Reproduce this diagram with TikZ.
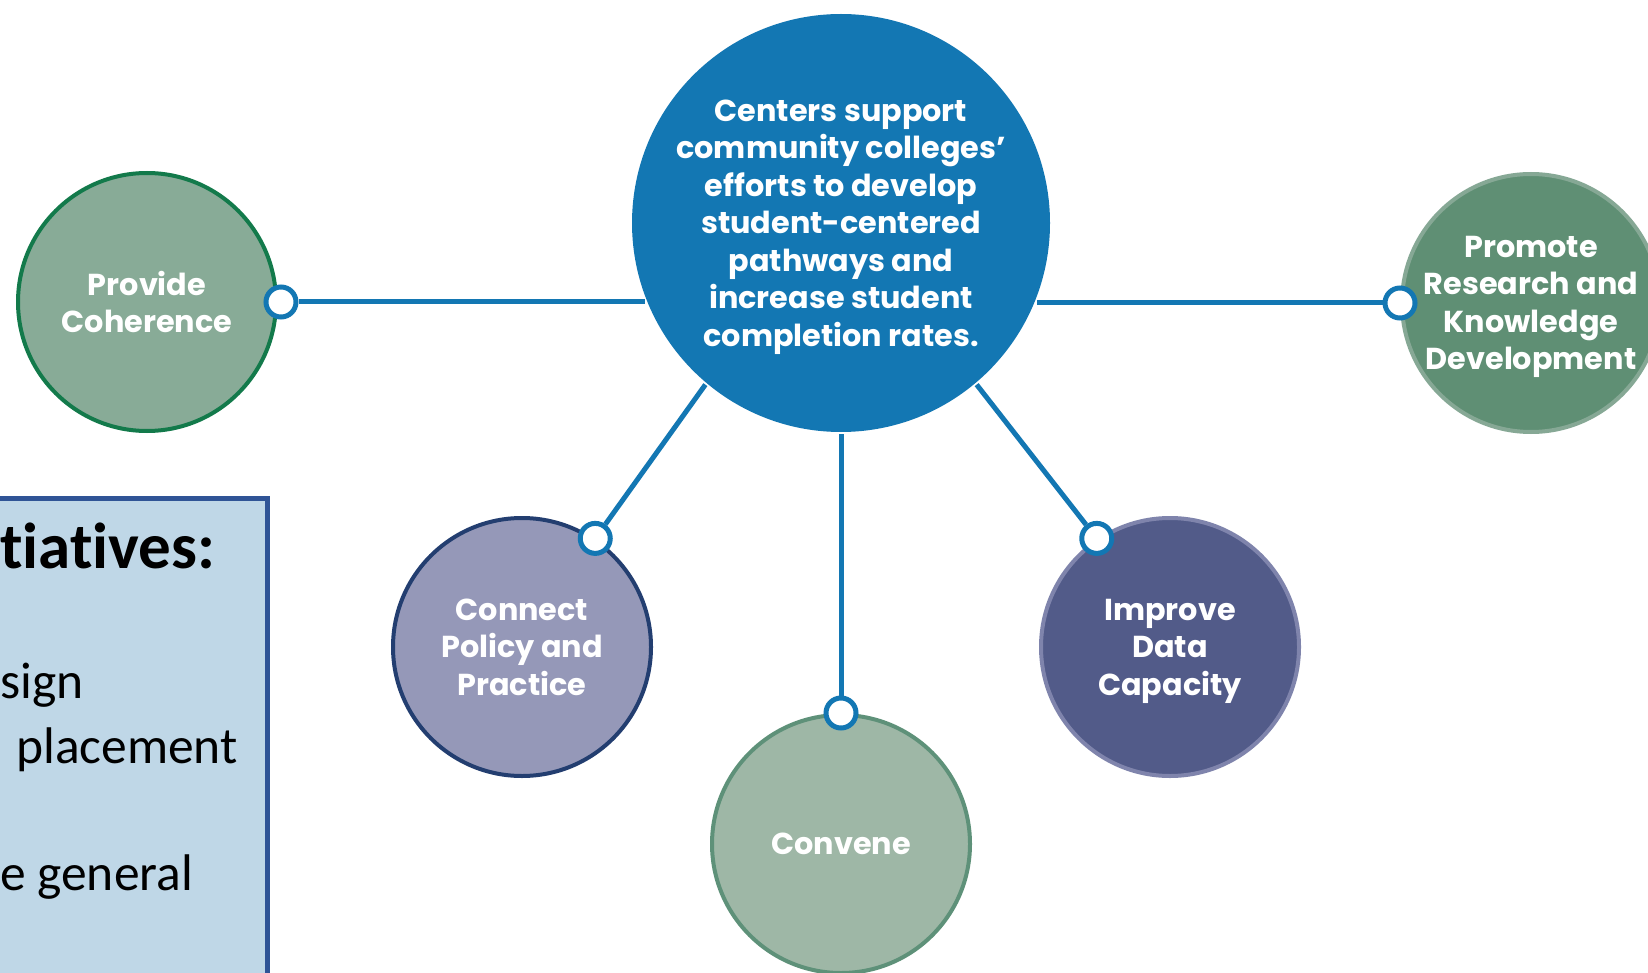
\documentclass[tikz,border=0pt]{standalone}
\usepackage{fontspec}
\setmainfont{Poppins}
\newfontfamily\boxfont[Ligatures=NoCommon]{Carlito}
\usetikzlibrary{positioning}
\definecolor{hubblue}{RGB}{19,119,179}
\definecolor{cohfill}{RGB}{136,171,151}
\definecolor{cohline}{RGB}{19,122,75}
\definecolor{resfill}{RGB}{95,143,116}
\definecolor{resline}{RGB}{134,168,149}
\definecolor{polfill}{RGB}{149,152,184}
\definecolor{polline}{RGB}{35,62,112}
\definecolor{datfill}{RGB}{82,91,137}
\definecolor{datline}{RGB}{127,132,172}
\definecolor{convfill}{RGB}{158,183,166}
\definecolor{convline}{RGB}{94,145,121}
\definecolor{boxfill}{RGB}{191,215,231}
\definecolor{boxline}{RGB}{47,84,150}
\tikzset{
    % Outer circle:
    goal node/.style = {
        circle,
        minimum size = 258pt,
        inner sep = 0pt,
        line width = 4pt,
        text = white,
        align = center,
        font = \bfseries\fontsize{30.3}{37.5}\selectfont,
        % Ignore descenders of the last line:
        text depth = 0pt
    },
    % Central circle:
    hub node/.style = {
        goal node,
        minimum size = 418pt,
        fill = hubblue
    },
    % Small ring on the edge:
    joint node/.style = {
        circle,
        minimum size = 30pt,
        inner sep = 0pt,
        draw = hubblue,
        fill = white,
        line width = 5pt
    },
    link/.style = {
        draw = hubblue,
        line width = 5pt
    },
    box text/.style = {
        anchor = base west,
        inner sep = 0pt,
        font = \boxfont\fontsize{51.5}{60}\selectfont
    },
    box head/.style = {
        box text,
        font = \boxfont\bfseries\fontsize{65}{72}\selectfont
    }
}

\begin{document}
\begin{tikzpicture}[x=1pt, y=-1pt]
    \useasboundingbox (0, 0) rectangle (1648, 973);
    \fill [white] (0, 0) rectangle (1648, 973);
    \node [hub node] (hub) at (841, 223)
        {Centers support\\community colleges'\\efforts to develop\\student-centered\\pathways and\\increase student\\completion rates.};
    \node [goal node, fill=cohfill, draw=cohline] (coh) at (147, 302) {Provide\\Coherence};
    \node [goal node, fill=resfill, draw=resline] (res) at (1531, 303) {Promote\\Research and\\Knowledge\\Development};
    \node [goal node, fill=polfill, draw=polline] (pol) at (522, 647) {Connect\\Policy and\\Practice};
    \node [goal node, fill=datfill, draw=datline] (dat) at (1170, 647) {Improve\\Data\\Capacity};
    \node [goal node, fill=convfill, draw=convline] (conv) at (841, 844) {Convene};
    \node [joint node] (coh dot) at ([xshift=3pt]coh.east) {};
    \node [joint node] (res dot) at (res.west) {};
    \node [joint node] (pol dot) at (pol.56) {};
    \node [joint node] (dat dot) at (dat.124) {};
    \node [joint node] (conv dot) at (conv.north) {};
    \draw [link] (coh dot) -- (hub.202 |- coh dot);
    \draw [link] (res dot) -- (hub.338 |- res dot);
    \draw [link] (pol dot) -- (hub.230);
    \draw [link] (dat dot) -- (hub.310);
    \draw [link] (conv dot) -- (hub.south);
    % Box cut off by the page edge:
    \path [draw=boxline, fill=boxfill, line width=5pt] (-20, 498) rectangle (267, 1000);
    \node [box head] (head) at (0, 568) {tiatives:};
    \node [box text] (line a) at (0, 698) {sign};
    \node [box text] (line b) at (16, 763) {placement};
    \node [box text] (line c) at (0, 890) {e general};
\end{tikzpicture}
\end{document}
